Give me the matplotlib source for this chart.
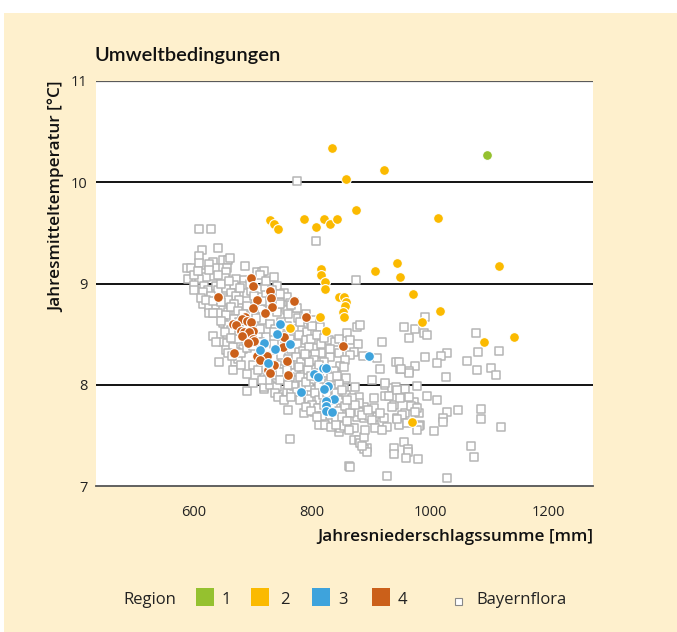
import numpy as np
import matplotlib.pyplot as plt
from matplotlib.patches import Rectangle

plt.rcParams['font.family'] = ['Open Sans', 'DejaVu Sans']

# precipitation [mm], temperature [°C]
region1 = [(1097, 10.27)]
region2 = [(833, 10.34), (857, 10.03), (922, 10.12), (1014, 9.65), (1116, 9.17),
           (728, 9.63), (735, 9.59), (743, 9.54), (786, 9.64), (820, 9.64),
           (806, 9.56), (830, 9.59), (842, 9.64), (874, 9.73),
           (816, 9.14), (816, 9.08), (822, 9.01), (822, 8.95),
           (907, 9.12), (944, 9.20), (949, 9.06), (971, 8.90),
           (845, 8.87), (854, 8.87), (857, 8.82), (855, 8.78), (852, 8.72), (854, 8.67),
           (813, 8.67), (823, 8.53), (762, 8.56), (987, 8.62), (1017, 8.73),
           (1092, 8.42), (1142, 8.47), (970, 7.63)]
region3 = [(745, 8.60), (741, 8.50), (763, 8.40), (718, 8.41), (712, 8.34),
           (738, 8.35), (726, 8.21), (896, 8.28), (818, 8.17), (823, 8.17),
           (804, 8.11), (810, 8.08), (782, 7.93), (827, 7.99), (820, 7.96),
           (837, 7.86), (823, 7.84), (823, 7.79), (823, 7.74), (833, 7.73)]
region4 = [(697, 9.05), (700, 8.98), (729, 8.93), (641, 8.87), (706, 8.84),
           (731, 8.86), (770, 8.83), (700, 8.76), (733, 8.77), (721, 8.71),
           (789, 8.67), (687, 8.67), (682, 8.65), (689, 8.63), (697, 8.62),
           (666, 8.60), (672, 8.59), (700, 8.53), (680, 8.53), (685, 8.52),
           (694, 8.52), (682, 8.48), (752, 8.47), (700, 8.45), (702, 8.43),
           (692, 8.41), (750, 8.37), (852, 8.38), (668, 8.31), (707, 8.28),
           (723, 8.28), (711, 8.24), (757, 8.23), (735, 8.20), (726, 8.15),
           (729, 8.12), (760, 8.10)]

bayernflora = [
    (774, 10.01), (806, 9.42), (875, 9.03),
    (608, 9.54), (629, 9.54), (641, 9.35), (614, 9.33), (588, 9.15), (595, 9.15),
    (608, 9.27), (608, 9.20), (632, 9.21), (636, 9.15), (626, 9.19), (649, 9.23),
    (658, 9.23), (661, 9.25), (656, 9.15), (655, 9.11), (687, 9.17), (619, 9.10),
    (632, 9.07), (620, 9.06), (590, 9.04), (608, 9.04), (600, 8.99), (600, 8.94),
    (653, 9.05), (672, 9.04), (685, 9.03), (668, 8.99), (706, 9.11), (716, 9.11),
    (719, 9.12), (711, 9.08), (617, 8.98), (624, 8.94), (615, 8.92), (637, 8.98),
    (641, 8.94), (629, 8.88), (655, 8.96), (663, 8.91), (672, 8.88), (649, 8.86),
    (658, 8.84), (677, 8.84), (685, 8.98), (690, 8.91), (740, 8.98), (752, 8.91),
    (757, 8.87), (745, 8.82), (762, 8.81), (757, 8.74), (740, 8.76), (615, 8.80),
    (626, 8.77), (637, 8.79), (649, 8.74), (658, 8.72), (626, 8.71), (641, 8.71),
    (697, 8.93), (710, 8.95), (722, 8.90), (730, 8.85), (668, 8.80), (690, 8.77),
    (632, 8.48), (656, 8.49), (649, 8.42), (656, 8.41), (643, 8.22), (670, 8.22),
    (675, 8.25), (683, 8.35), (690, 8.11), (666, 8.15), (690, 7.94), (718, 7.96),
    (719, 7.98), (718, 8.10), (726, 8.08), (740, 8.10), (752, 8.05), (728, 8.00),
    (740, 7.98), (737, 7.92), (757, 7.93), (769, 7.97), (632, 8.71), (655, 8.69),
    (649, 8.61), (658, 8.59), (663, 8.54), (637, 8.42), (655, 8.34), (672, 8.32),
    (680, 8.31), (689, 8.36), (666, 8.37), (658, 8.31), (726, 8.05),
    (769, 8.82), (777, 8.66), (784, 8.57), (782, 8.54), (813, 8.57), (828, 8.44),
    (839, 8.42), (859, 8.51), (876, 8.57), (881, 8.59), (864, 8.44), (878, 8.40),
    (871, 8.32), (919, 8.42), (886, 8.28), (910, 8.26), (845, 8.31), (864, 8.29),
    (856, 8.24), (847, 8.19), (839, 8.13), (806, 8.36), (816, 8.31), (830, 8.27),
    (820, 8.22), (854, 8.18), (837, 8.14), (943, 8.22), (949, 8.16), (803, 8.16),
    (772, 8.76), (787, 8.68), (790, 8.70), (800, 8.64),
    (915, 8.16), (856, 8.05), (902, 8.05), (924, 8.00), (936, 7.97), (953, 7.92),
    (958, 7.88), (973, 7.83), (975, 7.78), (958, 7.72), (982, 7.72), (873, 7.98),
    (880, 7.88), (888, 7.78), (902, 7.72), (910, 7.68), (919, 7.63), (868, 7.75),
    (876, 7.68),
    (857, 8.07), (854, 7.97), (924, 8.02), (943, 7.98), (905, 7.87), (924, 7.89),
    (931, 7.89), (939, 7.80), (936, 7.78), (764, 7.92), (760, 7.75), (862, 7.20),
    (787, 7.72), (803, 7.73), (811, 7.60), (825, 7.65), (833, 7.63), (845, 7.53),
    (847, 7.57), (854, 7.59), (864, 7.57), (876, 7.78), (880, 7.73), (888, 7.67),
    (897, 7.69), (902, 7.65), (907, 7.57), (922, 7.67), (927, 7.58), (944, 7.67),
    (948, 7.60), (871, 7.57), (871, 7.45), (880, 7.45), (881, 7.42), (893, 7.38),
    (888, 7.48), (888, 7.37), (939, 7.38), (939, 7.32), (816, 7.83), (854, 7.82),
    (862, 7.77), (880, 7.82), (905, 7.77), (915, 7.72),
    (762, 7.46), (864, 7.19), (927, 7.10), (893, 7.34), (885, 7.40),
    (862, 7.55), (890, 7.55), (919, 7.55), (1006, 7.54),
    (992, 8.67), (956, 8.57), (975, 8.55), (965, 8.46), (989, 8.51), (994, 8.49),
    (1077, 8.51), (1082, 8.32), (1116, 8.33), (1029, 8.31), (1019, 8.28), (992, 8.27),
    (1012, 8.21), (1062, 8.23), (1080, 8.15), (1104, 8.17), (1111, 8.10), (1027, 8.08),
    (975, 8.19), (965, 8.14), (965, 8.12), (947, 8.22), (951, 8.16), (977, 7.99),
    (958, 7.96), (944, 7.95), (949, 7.87), (965, 7.88), (994, 7.89), (1012, 7.85),
    (1029, 7.73), (1048, 7.75), (1086, 7.76), (1087, 7.66), (1120, 7.58), (968, 7.79),
    (977, 7.77), (953, 7.70), (975, 7.73), (944, 7.66), (961, 7.62), (983, 7.60),
    (982, 7.59), (1022, 7.67), (1022, 7.63), (977, 7.55), (1069, 7.40), (1074, 7.29),
    (955, 7.43), (963, 7.37), (963, 7.34), (960, 7.28), (979, 7.27), (1029, 7.08),
    # dense core
    (690, 8.78), (705, 8.80), (715, 8.75), (725, 8.82), (740, 8.72), (760, 8.70),
    (775, 8.76), (700, 8.70), (745, 8.80), (765, 8.79),
    (690, 8.62), (705, 8.58), (715, 8.64), (728, 8.60), (738, 8.55), (748, 8.62),
    (758, 8.58), (770, 8.55), (780, 8.62), (792, 8.52), (800, 8.58), (710, 8.50),
    (722, 8.47), (735, 8.52), (750, 8.48), (762, 8.45), (778, 8.49), (790, 8.44),
    (700, 8.38), (712, 8.42), (725, 8.35), (735, 8.40), (745, 8.32), (755, 8.38),
    (765, 8.35), (775, 8.40), (785, 8.33), (795, 8.37), (805, 8.30), (815, 8.40),
    (720, 8.28), (735, 8.26), (748, 8.29), (760, 8.25), (772, 8.27), (782, 8.22),
    (792, 8.28), (803, 8.24),
    (740, 8.20), (752, 8.16), (762, 8.20), (770, 8.12), (778, 8.18), (786, 8.10),
    (794, 8.15), (800, 8.05), (808, 8.12), (815, 8.02), (775, 8.05), (785, 8.00),
    (795, 7.98), (805, 7.95), (762, 8.08), (770, 7.99), (780, 8.08), (790, 8.03),
    (798, 8.09), (812, 7.99), (820, 8.06), (828, 8.02), (835, 7.96), (845, 8.01),
    (785, 7.90), (795, 7.86), (805, 7.92), (812, 7.85), (818, 7.90), (830, 7.88),
    (840, 7.92), (848, 7.85), (858, 7.90), (868, 7.87), (800, 7.80), (810, 7.77),
    (820, 7.80), (835, 7.78), (845, 7.74), (855, 7.79), (865, 7.72), (872, 7.80),
    (830, 7.70), (840, 7.66), (850, 7.68), (860, 7.64), (817, 7.69), (885, 7.70),
    (895, 7.75), (743, 7.88), (752, 7.85),
    # extra fill of the band
    (645, 9.00), (660, 9.02), (678, 8.96), (695, 9.00), (702, 8.88), (715, 8.83),
    (720, 8.97), (732, 8.94), (746, 8.90), (612, 8.86), (620, 8.84), (633, 8.83),
    (645, 8.82), (662, 8.77), (675, 8.73), (683, 8.70), (668, 8.65), (677, 8.62),
    (690, 8.57), (705, 8.66), (712, 8.55), (645, 8.63), (652, 8.52), (675, 8.45),
    (662, 8.46), (665, 8.28), (680, 8.20), (700, 8.20), (708, 8.15), (715, 8.05),
    (700, 8.02), (730, 8.17), (745, 8.13), (757, 8.15), (745, 8.05), (760, 8.00),
    (775, 7.93), (765, 7.88), (780, 7.85), (790, 7.78), (798, 7.74), (808, 7.68),
    (822, 7.60), (832, 7.58), (840, 7.60), (826, 7.92), (838, 7.85), (850, 7.95),
    (860, 7.85), (825, 8.12), (832, 8.08), (842, 8.09), (812, 8.20), (795, 8.22),
    (788, 8.30), (798, 8.45), (808, 8.49), (820, 8.46), (830, 8.35), (845, 8.45),
    (722, 9.02), (735, 9.06), (640, 9.08), (625, 9.13), (600, 9.08), (607, 9.12),
]

region_colors = ['#95c12f', '#fbba00', '#3ea3dc', '#cb601a']
region_labels = ['1', '2', '3', '4']
cream = '#fef0cd'

W, H = 677, 632
fig = plt.figure(figsize=(W / 100, H / 100), dpi=100)
fig.patches.append(Rectangle((4 / W, 0), 1, 1 - 13 / H, transform=fig.transFigure,
                             facecolor=cream, edgecolor='none', zorder=-10))

ax = fig.add_axes([96 / W, 1 - 486 / H, (593 - 96) / W, (486 - 81) / H])
ax.set_facecolor('white')
ax.set_xlim(434, 1276)
ax.set_ylim(7, 11)

for yv in [8, 9, 10]:
    ax.axhline(yv, color='black', lw=1.3, zorder=1)
ax.axhline(11, color='#5a5a5a', lw=1.6, zorder=1)
for s in ['left', 'right', 'top']:
    ax.spines[s].set_visible(False)
ax.spines['bottom'].set_color('#555555')
ax.spines['bottom'].set_linewidth(1.3)

bf = np.array(bayernflora)
ax.scatter(bf[:, 0], bf[:, 1], marker='s', s=36, facecolors='white',
           edgecolors='#b5b5b5', linewidths=1.1, zorder=2)

for pts, col in zip([region4, region3, region2, region1], region_colors[::-1]):
    p = np.array(pts)
    ax.scatter(p[:, 0], p[:, 1], s=50, color=col, edgecolors='white',
               linewidths=0.8, zorder=3)

ax.set_xticks([600, 800, 1000, 1200])
ax.set_yticks([7, 8, 9, 10, 11])
ax.tick_params(axis='both', length=0, labelsize=10.5, colors='#222222')
ax.tick_params(axis='x', pad=14)
ax.tick_params(axis='y', pad=6)

fig.text(95 / W, 1 - 55 / H, 'Umweltbedingungen', ha='left', va='center',
         fontsize=14.5, fontweight='semibold', color='#111111',
         family=['Lato', 'DejaVu Sans'])
fig.text(57 / W, 1 - 81 / H, 'Jahresmitteltemperatur [°C]', rotation=90,
         ha='center', va='top', fontsize=12.3, fontweight='semibold', color='#111111')
fig.text(593 / W, 1 - 537 / H, 'Jahresniederschlagssumme [mm]', ha='right',
         va='center', fontsize=12.3, fontweight='semibold', color='#111111')

# legend
ly = 1 - 600 / H
fig.text(123 / W, ly, 'Region', ha='left', va='center', fontsize=12, color='#222222')
patch_x = [196, 251, 312, 372]
label_x = [222, 280, 338, 398]
for px, tx, col, lab in zip(patch_x, label_x, region_colors, region_labels):
    fig.patches.append(Rectangle((px / W, 1 - 606 / H), 18 / W, 18 / H,
                                 transform=fig.transFigure, facecolor=col,
                                 edgecolor='none'))
    fig.text(tx / W, ly, lab, ha='left', va='center', fontsize=12, color='#222222')
fig.patches.append(Rectangle((455 / W, 1 - 605 / H), 7 / W, 7 / H,
                             transform=fig.transFigure, facecolor='white',
                             edgecolor='#888888', linewidth=0.8))
fig.text(476 / W, ly, 'Bayernflora', ha='left', va='center', fontsize=12, color='#222222')

fig.savefig('out.png', dpi=100, facecolor='white')
